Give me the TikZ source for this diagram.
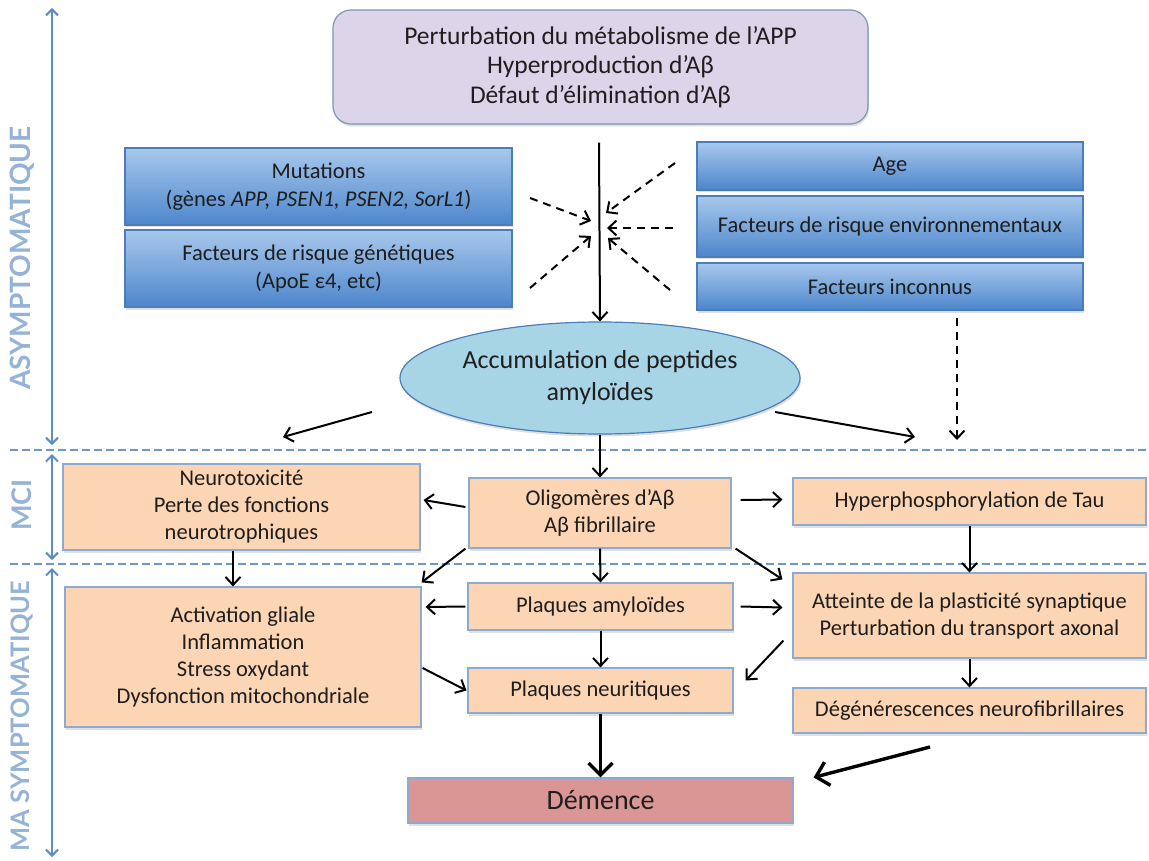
\documentclass[tikz,border=0pt]{standalone}
\usepackage{fontspec}
\setmainfont{Carlito}
\newfontfamily\sidefont{Lato}
\usetikzlibrary{arrows.meta,shapes.geometric,shadows,calc}
\definecolor{orfill}{HTML}{FCD5B4}
\definecolor{orline}{HTML}{8EAAD0}
\definecolor{demfill}{HTML}{D99694}
\definecolor{topfill}{HTML}{DCD4E8}
\definecolor{topline}{HTML}{7F96B8}
\definecolor{bluetop}{HTML}{A8C8EC}
\definecolor{bluebot}{HTML}{4D86CC}
\definecolor{blueline}{HTML}{4A7EBB}
\definecolor{ellfill}{HTML}{A8D5E5}
\definecolor{sepblue}{HTML}{6E96C8}
\definecolor{sideblue}{HTML}{5B8DC9}
\definecolor{labblue}{HTML}{95B3D7}
\definecolor{txt}{HTML}{1E1E1E}
\begin{document}
\begin{tikzpicture}[x=1pt,y=-1pt,
  box/.style={draw=orline, line width=1.2pt, inner sep=0pt, align=center, text=txt,
    font=\fontsize{22.5}{27}\selectfont,
    drop shadow={shadow xshift=1pt, shadow yshift=-2.5pt, opacity=0.25}},
  obox/.style={box, fill=orfill},
  bbox/.style={box, draw=blueline, top color=bluetop, bottom color=bluebot, font=\fontsize{22.5}{28}\selectfont},
  arr/.style={-{Straight Barb[length=8pt,width=15pt,line width=2pt]}, line width=2pt},
  tarr/.style={-{Straight Barb[length=12pt,width=24pt,line width=3.4pt]}, line width=3.4pt},
  darr/.style={arr, dash pattern=on 8pt off 6pt},
  sepline/.style={draw=sepblue, line width=2.4pt, dash pattern=on 8pt off 4pt},
  side/.style={{Straight Barb[length=6pt,width=12pt]}-{Straight Barb[length=6pt,width=12pt]}, draw=sideblue, line width=2pt},
  sidelab/.style={text=labblue, rotate=90, inner sep=0pt}
]
\useasboundingbox (0,0) rectangle (1149,861);
\fill[white] (0,0) rectangle (1149,861);

% separators
\coordinate (s1a) at (10,450); \coordinate (s1b) at (1149,450);
\coordinate (s2a) at (10,564); \coordinate (s2b) at (1149,564);
\draw[sepline] (s1a) -- (s1b);
\draw[sepline] (s2a) -- (s2b);

% side arrows and labels
\coordinate (a1) at (52,8);   \coordinate (a2) at (52,445);
\coordinate (b1) at (52,454); \coordinate (b2) at (52,560);
\coordinate (c1) at (52,568); \coordinate (c2) at (52,857);
\draw[side] (a1) -- (a2);
\draw[side] (b1) -- (b2);
\draw[side] (c1) -- (c2);
\node[sidelab, font=\sidefont\bfseries\fontsize{28}{30}\selectfont] (lasym) at (22,258) {ASYMPTOMATIQUE};
\node[sidelab, font=\sidefont\bfseries\fontsize{27}{30}\selectfont] (lmci) at (22,505) {MCI};
\node[sidelab, font=\sidefont\bfseries\fontsize{25.5}{30}\selectfont] (lma) at (22,716) {MA SYMPTOMATIQUE};

% top box
\node[box, draw=topline, fill=topfill, rounded corners=18pt, minimum width=535pt, minimum height=114pt,
  font=\fontsize{25.5}{29.5}\selectfont] (top) at (600.5,67)
  {Perturbation du métabolisme de l’APP\\Hyperproduction d’Aβ\\Défaut d’élimination d’Aβ};

% blue boxes
\node[bbox, minimum width=387pt, minimum height=77pt] (mut) at (318.5,186.5)
  {Mutations\\(gènes \textit{APP, PSEN1, PSEN2, SorL1})};
\node[bbox, minimum width=387pt, minimum height=77pt] (gen) at (318.5,268.5)
  {Facteurs de risque génétiques\\(ApoE ε4, etc)};
\node[bbox, minimum width=386pt, minimum height=48pt] (age) at (890,166) {Age};
\node[bbox, minimum width=386pt, minimum height=61pt] (env) at (890,226.5) {Facteurs de risque environnementaux};
\node[bbox, minimum width=386pt, minimum height=47pt] (inc) at (890,286.5) {Facteurs inconnus};

% ellipse
\node[ellipse, draw=blueline, line width=1.2pt, fill=ellfill, inner sep=0pt, minimum width=400pt, minimum height=112pt,
  align=center, text=txt, font=\fontsize{26}{32}\selectfont,
  drop shadow={shadow xshift=1pt, shadow yshift=-2.5pt, opacity=0.25}] (acc) at (600,378)
  {Accumulation de peptides\\amyloïdes};

% MCI row
\node[obox, minimum width=357pt, minimum height=86pt] (neuro) at (241.5,507)
  {Neurotoxicité\\Perte des fonctions\\neurotrophiques};
\node[obox, minimum width=262pt, minimum height=70pt] (olig) at (600,513)
  {Oligomères d’Aβ\\Aβ fibrillaire};
\node[obox, minimum width=353pt, minimum height=47pt] (hyper) at (969.5,501.5)
  {Hyperphosphorylation de Tau};

% symptomatic rows
\node[obox, minimum width=356pt, minimum height=140pt] (activ) at (243,657)
  {Activation gliale\\Inflammation\\Stress oxydant\\Dysfonction mitochondriale};
\node[obox, minimum width=265pt, minimum height=47pt] (pamy) at (600.5,606.5) {Plaques amyloïdes};
\node[obox, minimum width=353pt, minimum height=85pt] (atte) at (969.5,615.5)
  {Atteinte de la plasticité synaptique\\Perturbation du transport axonal};
\node[obox, minimum width=265pt, minimum height=45pt] (pneu) at (600.5,690.5) {Plaques neuritiques};
\node[obox, minimum width=353pt, minimum height=45pt] (deg) at (969.5,710.5) {Dégénérescences neurofibrillaires};
\node[box, fill=demfill, minimum width=385pt, minimum height=45pt, font=\fontsize{28}{30}\selectfont] (dem) at (600.5,800.5) {Démence};

% central arrow
\draw[arr] ($(top.south)+(-1.5,18)$) -- (acc.north);

% dashed converging arrows
\coordinate (d1) at (530,198); \coordinate (e1) at (591,221);
\coordinate (d2) at (530,288); \coordinate (e2) at (591,236);
\coordinate (d3) at (675,163); \coordinate (e3) at (606,213);
\coordinate (d4) at (673,228); \coordinate (e4) at (607,228);
\coordinate (d5) at (670,290); \coordinate (e5) at (608,238);
\draw[darr] (d1) -- (e1);
\draw[darr] (d2) -- (e2);
\draw[darr] (d3) -- (e3);
\draw[darr] (d4) -- (e4);
\draw[darr] (d5) -- (e5);

% arrows from ellipse
\coordinate (l1) at (372,412); \coordinate (l2) at (283,437);
\coordinate (r1) at (775,412); \coordinate (r2) at (915,437);
\draw[arr] (l1) -- (l2);
\draw[arr] (r1) -- (r2);
\draw[arr] (acc.south) -- (olig.north);
\coordinate (i1) at (957,318); \coordinate (i2) at (957,440);
\draw[darr] (i1) -- (i2);

% MCI arrows
\draw[arr] ($(olig.west)+(-3,-6)$) -- ($(neuro.east)+(3,-7)$);
\draw[arr] ($(olig.east)+(9,-13)$) -- ($(hyper.west)+(-10,-2)$);
\draw[arr] ($(olig.south west)+(-3,0)$) -- ($(activ.north east)+(0,-4)$);
\draw[arr] ($(olig.south east)+(4,0)$) -- ($(atte.north west)+(-10,7)$);
\draw[arr] (olig.south) -- (pamy.north);
\draw[arr] (hyper.south -| deg.north) -- (atte.north -| deg.north);
\draw[arr] (neuro.south -| 233,0) -- (activ.north -| 233,0);

% symptomatic arrows
\draw[arr] ($(pamy.west)+(-2,0)$) -- ($(activ.east)+(4,-50)$);
\draw[arr] ($(pamy.east)+(7,0)$) -- ($(atte.west)+(-10,-8)$);
\draw[arr] (pamy.south) -- (pneu.north);
\draw[arr] ($(atte.south west)+(-9,-18)$) -- ($(pneu.east)+(12,-10)$);
\draw[arr] ($(activ.east)+(1,11)$) -- ($(pneu.west)+(-1,0)$);
\draw[arr] (atte.south -| deg.north) -- (deg.north);
\draw[tarr] (pneu.south) -- (dem.north);
\coordinate (g1) at (930,747);
\draw[tarr] (g1) -- ($(dem.north east)+(20,0)$);
\end{tikzpicture}
\end{document}
